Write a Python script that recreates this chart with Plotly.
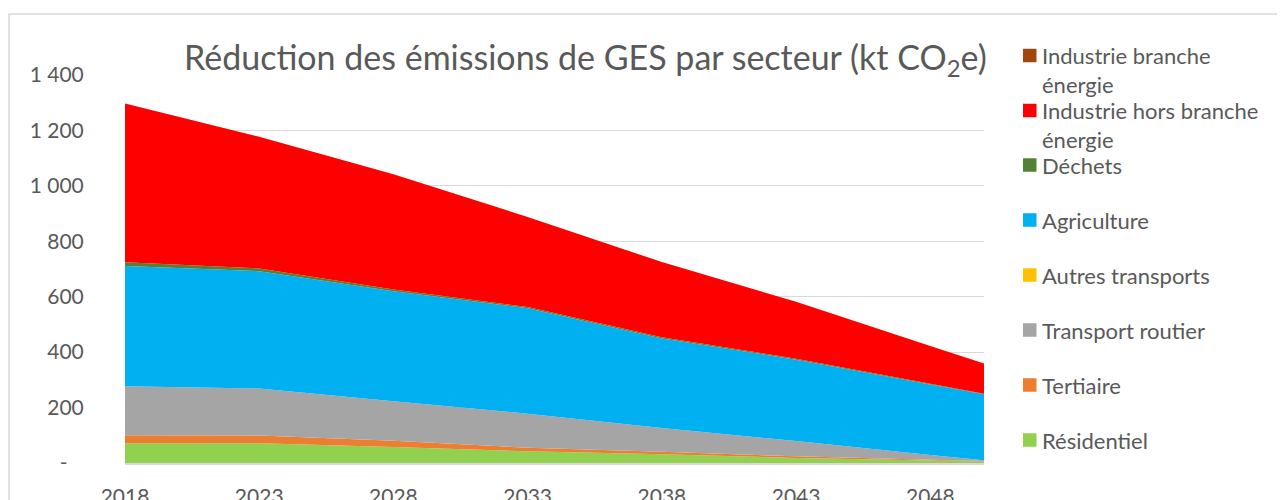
import plotly.graph_objects as go

# ---------------- data ----------------
years = [2018, 2023, 2028, 2033, 2038, 2043, 2048, 2050]

residentiel = [71, 71, 58, 42, 32, 18, 9, 5]
tertiaire = [29, 28, 22, 13, 9, 6, 3, 2]
transport_routier = [177, 170, 143, 123, 85, 55, 17, 3]
autres_transports = [0, 0, 0, 0, 0, 0, 0, 0]
agriculture = [434, 423, 397, 380, 323, 294, 254, 238]
dechets = [13, 10, 6, 5, 5, 3, 3, 2]
industrie_hors_branche = [573, 475, 416, 325, 271, 206, 136, 109]
industrie_branche = [0, 0, 0, 0, 0, 0, 0, 0]

series_names = ["Résidentiel", "Tertiaire", "Transport routier", "Autres transports",
                "Agriculture", "Déchets", "Industrie hors branche énergie",
                "Industrie branche énergie"]
series_values = [residentiel, tertiaire, transport_routier, autres_transports,
                 agriculture, dechets, industrie_hors_branche, industrie_branche]
series_colors = ["#92D050", "#ED7D31", "#A5A5A5", "#FFC000",
                 "#00B0F0", "#548235", "#FF0000", "#9E480E"]

x_tick_vals = [2018, 2023, 2028, 2033, 2038, 2043, 2048]
y_tick_vals = [0, 200, 400, 600, 800, 1000, 1200, 1400]
y_tick_text = ["-\u00a0\u00a0\u00a0", "200", "400", "600", "800", "1 000", "1 200", "1 400"]

legend_labels = ["Industrie branche<br>énergie", "Industrie hors branche<br>énergie",
                 "Déchets", "Agriculture", "Autres transports", "Transport routier",
                 "Tertiaire", "Résidentiel"]
legend_colors = ["#9E480E", "#FF0000", "#548235", "#00B0F0",
                 "#FFC000", "#A5A5A5", "#ED7D31", "#92D050"]

title_text = "Réduction des émissions de GES par secteur (kt CO<sub>2</sub>e)"

# ---------------- layout geometry (screen pixels) ----------------
OFF = 8                      # page body margin
W, H = 1285 - OFF, 500 - OFF  # figure size so it fits the window
SL, SR, ST, SB = 125, 984, 75, 463   # plot area on screen
L, R, T, B = SL - OFF, SR - OFF, ST - OFF, SB - OFF
TEXT = "#595959"
GRID = "#D9D9D9"
FONT = "Lato, Carlito, Calibri, sans-serif"


def px(xs):
    return (xs - SL) / (SR - SL)


def py(ys):
    return (SB - ys) / (SB - ST)


fig = go.Figure()
for name, vals, col in zip(series_names, series_values, series_colors):
    fig.add_trace(go.Scatter(
        x=years, y=vals, name=name, mode="lines",
        stackgroup="one", line=dict(width=0, color=col),
        fillcolor=col, showlegend=False, hoverinfo="x+y+name"))

shapes = []
annotations = []

# outer chart border
shapes.append(dict(type="rect", xref="paper", yref="paper",
                   x0=px(9), x1=px(1300), y0=py(520), y1=py(14),
                   line=dict(color=GRID, width=1.5), fillcolor="rgba(0,0,0,0)",
                   layer="below"))

# title (white box hides the top gridline, like the original)
annotations.append(dict(text=title_text, xref="paper", yref="paper",
                        x=px(585), y=py(59), xanchor="center", yanchor="middle",
                        showarrow=False, bgcolor="white",
                        font=dict(family=FONT, size=34, color=TEXT)))

# legend (manual, to follow the original spacing)
square_centers = [55.5, 110.5, 165, 220, 275, 330, 385, 440]
for lab, col, cy in zip(legend_labels, legend_colors, square_centers):
    shapes.append(dict(type="rect", xref="paper", yref="paper",
                       x0=px(1023), x1=px(1036.5), y0=py(cy + 6.75), y1=py(cy - 6.75),
                       line=dict(width=0), fillcolor=col))
    two_lines = "<br>" in lab
    annotations.append(dict(text=lab, xref="paper", yref="paper",
                            x=px(1040), y=py(cy - 16) if two_lines else py(cy),
                            xanchor="left", yanchor="top" if two_lines else "middle",
                            align="left", showarrow=False,
                            font=dict(family=FONT, size=22, color=TEXT)))

fig.update_layout(
    width=W, height=H, autosize=False,
    margin=dict(l=L, r=W - R, t=T, b=H - B, pad=0, autoexpand=False),
    paper_bgcolor="white", plot_bgcolor="white",
    font=dict(family=FONT, color=TEXT, size=21),
    showlegend=False,
    shapes=shapes, annotations=annotations,
    xaxis=dict(range=[2018, 2050], tickmode="array", tickvals=x_tick_vals,
               ticktext=[str(v) for v in x_tick_vals], automargin=False,
               showgrid=False, zeroline=False, showline=True,
               linecolor=GRID, linewidth=1.5,
               ticks="outside", ticklen=14, tickcolor="rgba(0,0,0,0)",
               tickfont=dict(family=FONT, size=21, color=TEXT)),
    yaxis=dict(range=[0, 1400], tickmode="array", tickvals=y_tick_vals,
               ticktext=y_tick_text, automargin=False,
               showgrid=True, gridcolor=GRID, gridwidth=1,
               zeroline=False, showline=False,
               ticks="outside", ticklen=36, tickcolor="rgba(0,0,0,0)",
               tickfont=dict(family=FONT, size=21, color=TEXT)),
)

fig.write_html("out.html")
